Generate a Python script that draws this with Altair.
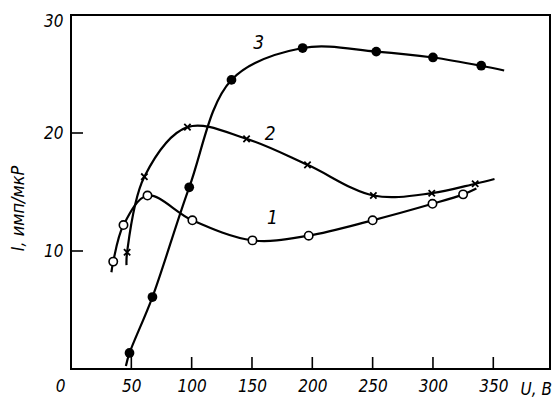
import altair as alt
import pandas as pd

# Curve 1 (open circles)
c1_x = [35, 43.5, 63.4, 100.6, 150.4, 197, 250, 299.6, 325]
c1_y = [9.1, 12.2, 14.7, 12.6, 10.9, 11.3, 12.6, 14.0, 14.8]
c1_line_x = [33.5] + c1_x + [336]
c1_line_y = [8.2] + c1_y + [15.3]

# Curve 2 (crosses)
c2_x = [46.5, 60.8, 96.5, 145.5, 196, 250.6, 299, 335]
c2_y = [9.9, 16.3, 20.5, 19.5, 17.3, 14.7, 14.9, 15.7]
c2_line_x = [46] + c2_x + [351]
c2_line_y = [8.8] + c2_y + [16.1]

# Curve 3 (filled dots)
c3_x = [48.5, 67.5, 98, 133, 192, 253, 300, 340]
c3_y = [1.36, 6.1, 15.4, 24.5, 27.2, 26.9, 26.4, 25.7]
c3_line_x = [45.5] + c3_x + [359]
c3_line_y = [0.25] + c3_y + [25.3]

curve_labels = ["1", "2", "3"]
label_x = [167, 165, 155.5]
label_y = [12.8, 19.9, 27.6]

x_ticks = [0, 50, 100, 150, 200, 250, 300, 350]
y_ticks = [10, 20, 30]

W, H = 479, 354
FONT = "DejaVu Sans Condensed"

xs = alt.Scale(domain=[0, 397], nice=False, zero=False)
ys = alt.Scale(domain=[0, 30], nice=False, zero=False)

lines_df = pd.concat([
    pd.DataFrame({"x": c1_line_x, "y": c1_line_y, "c": "1"}),
    pd.DataFrame({"x": c2_line_x, "y": c2_line_y, "c": "2"}),
    pd.DataFrame({"x": c3_line_x, "y": c3_line_y, "c": "3"}),
])

lines = alt.Chart(lines_df).mark_line(
    interpolate="catmull-rom", color="black", strokeWidth=2.2
).encode(
    x=alt.X("x:Q", scale=xs, axis=alt.Axis(
        values=x_ticks, grid=False, domain=False, ticks=False, tickSize=0,
        labelFont=FONT, labelFontStyle="italic", labelFontSize=17,
        labelColor="black", labelPadding=9,
        labelAlign={"condition": {"test": "datum.value == 0", "value": "right"}, "value": "center"},
        labelOffset={"condition": {"test": "datum.value == 0", "value": -6}, "value": 0},
        title="U, B", titleFont=FONT, titleFontStyle="italic", titleFontSize=17,
        titleFontWeight="normal", titleColor="black",
        titleX=449, titleY=20, titleAlign="left", titleBaseline="middle",
    )),
    y=alt.Y("y:Q", scale=ys, axis=alt.Axis(
        values=y_ticks, grid=False, domain=False, ticks=False, tickSize=0,
        labelFont=FONT, labelFontStyle="italic", labelFontSize=17,
        labelColor="black", labelPadding=8,
        labelBaseline={"condition": {"test": "datum.value == 30", "value": "top"}, "value": "middle"},
        labelOffset={"condition": {"test": "datum.value == 30", "value": -2}, "value": 0},
        title="I, имп/мкР", titleFont=FONT, titleFontStyle="italic", titleFontSize=18,
        titleFontWeight="normal", titleColor="black",
        titleX=-53, titleY=193, titleAngle=-90, titleAlign="center", titleBaseline="middle",
    )),
    detail="c:N",
)

d3 = pd.DataFrame({"x": c3_x, "y": c3_y})
d1 = pd.DataFrame({"x": c1_x, "y": c1_y})
d2 = pd.DataFrame({"x": c2_x, "y": c2_y})

dots3 = alt.Chart(d3).mark_point(
    shape="circle", filled=True, color="black", size=95, opacity=1
).encode(x=alt.X("x:Q", scale=xs), y=alt.Y("y:Q", scale=ys))

dots1 = alt.Chart(d1).mark_point(
    shape="circle", filled=True, fill="white", stroke="black", strokeWidth=1.6,
    size=70, opacity=1, fillOpacity=1, strokeOpacity=1
).encode(x=alt.X("x:Q", scale=xs), y=alt.Y("y:Q", scale=ys))

dots2 = alt.Chart(d2).mark_point(
    shape="M-1,-1L1,1M-1,1L1,-1", filled=False, color="black", strokeWidth=1.8,
    size=40, opacity=1
).encode(x=alt.X("x:Q", scale=xs), y=alt.Y("y:Q", scale=ys))

labels = alt.Chart(pd.DataFrame({"x": label_x, "y": label_y, "t": curve_labels})).mark_text(
    font=FONT, fontStyle="italic", fontSize=19, color="black"
).encode(x=alt.X("x:Q", scale=xs), y=alt.Y("y:Q", scale=ys), text="t:N")

xt = alt.Chart(pd.DataFrame({"v": x_ticks[1:]})).mark_rule(color="black", strokeWidth=1.6).encode(
    x=alt.X("v:Q", scale=xs), y=alt.value(H), y2=alt.value(H - 12)
)
yt = alt.Chart(pd.DataFrame({"v": y_ticks[:-1]})).mark_rule(color="black", strokeWidth=1.6).encode(
    y=alt.Y("v:Q", scale=ys), x=alt.value(0), x2=alt.value(12)
)

chart = alt.layer(lines, xt, yt, dots3, dots1, dots2, labels).properties(
    width=W, height=H,
    autosize=alt.AutoSizeParams(type="none"),
    padding={"left": 63, "top": 7, "right": 2, "bottom": 28},
).configure_view(stroke="black", strokeWidth=2)

chart.save("out.html", embed_options={"renderer": "svg", "actions": False})
